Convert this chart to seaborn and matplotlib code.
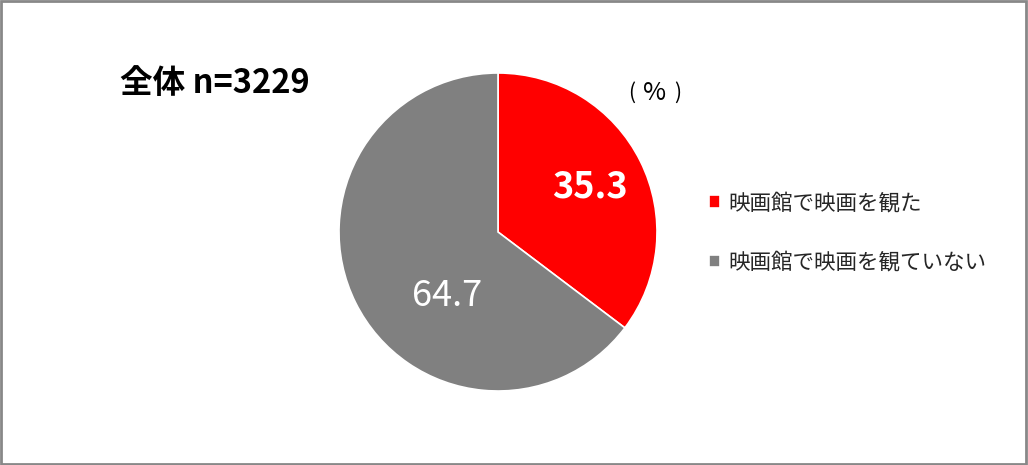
import matplotlib
matplotlib.use("Agg")
import matplotlib.pyplot as plt
import seaborn as sns
from matplotlib.patches import Rectangle

# data
labels = ["映画館で映画を観た", "映画館で映画を観ていない"]
values = [35.3, 64.7]
colors = ["#FF0000", "#808080"]
title_text = "全体 n=3229"
unit_parts = ["(", "%", ")"]

sns.set_theme(style="white")
plt.rcParams['font.family'] = ['Noto Sans CJK JP', 'DejaVu Sans']

W, H = 1028, 465
fig = plt.figure(figsize=(W / 100, H / 100), dpi=100)

# pie axes: center (498, 232) px from top, radius 159 px
r = 159
cx, cy = 498, H - 232
ax = fig.add_axes([(cx - r) / W, (cy - r) / H, 2 * r / W, 2 * r / H])
wedges, _ = ax.pie(values, colors=colors, startangle=90, counterclock=False,
                   radius=1, wedgeprops=dict(edgecolor="white", linewidth=1.2))
ax.set_xlim(-1, 1)
ax.set_ylim(-1, 1)

# value labels
ax.text(0.58, 0.28, f"{values[0]:.1f}", color="white", fontsize=26,
        fontweight="bold", ha="center", va="center")
ax.text(-0.32, -0.40, f"{values[1]:.1f}", color="white", fontsize=26,
        ha="center", va="center")

fig.text(120 / W, 1 - 84 / H, title_text, fontsize=23.5, fontweight="bold",
         ha="left", va="center", color="black")

# unit label "（%）", parts spaced like full-width brackets
for px, part, fs in zip([632, 655, 678], unit_parts, [15, 18, 15]):
    fig.text(px / W, 1 - 93 / H, part, fontsize=fs, ha="center",
             va="center", color="black")

fig.legend(wedges, labels, loc="center left",
           bbox_to_anchor=(709 / W, 1 - 233 / H), frameon=False,
           fontsize=15.5, handlelength=0.5, handleheight=0.5,
           handletextpad=0.4, labelspacing=1.75, borderpad=0,
           borderaxespad=0)

# outer frame
fig.patches.append(Rectangle((0.001, 0.002), 0.997, 0.995,
                             transform=fig.transFigure, fill=False,
                             edgecolor="#888888", linewidth=2))

fig.savefig("out.png", dpi=100)
